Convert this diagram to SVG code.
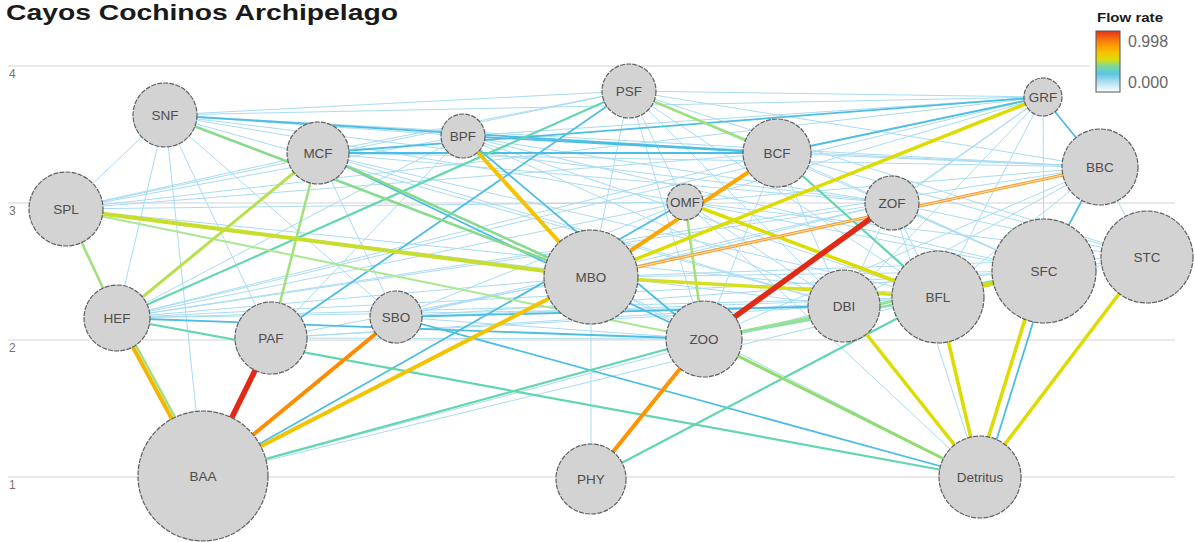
<svg xmlns="http://www.w3.org/2000/svg" width="1195" height="542" viewBox="0 0 1195 542">
<defs>
<linearGradient id="flow" x1="0" y1="0" x2="0" y2="1">
<stop offset="0" stop-color="#e8321a"/>
<stop offset="0.12" stop-color="#f66a10"/>
<stop offset="0.25" stop-color="#ffa000"/>
<stop offset="0.37" stop-color="#f2c600"/>
<stop offset="0.47" stop-color="#dcdc10"/>
<stop offset="0.58" stop-color="#78d8a0"/>
<stop offset="0.70" stop-color="#5cc6e4"/>
<stop offset="0.85" stop-color="#b6e0f2"/>
<stop offset="1" stop-color="#ffffff"/>
</linearGradient>
<style>
.grid{stroke:#e2e2e2;stroke-width:1.5}
.ax{font-family:"Liberation Sans",Arial,sans-serif;font-size:12px;fill:#7d7063}
.edges line{stroke-linecap:round;fill:none}
.lb{stroke:#a9dcf2;stroke-width:1}
.mb{stroke:#4cbde3;stroke-width:1.8}
.tl{stroke:#62d6ae;stroke-width:2.2}
.lg{stroke:#9fe07a;stroke-width:2.5}
.yg{stroke:#c3e03a;stroke-width:3}
.ye{stroke:#dcdc00;stroke-width:3.5}
.go{stroke:#f4c300;stroke-width:4}
.or{stroke:#ff9400;stroke-width:4}
.rd{stroke:#e12a16;stroke-width:5.5}
.node circle{fill:#d3d3d3;stroke:#606060;stroke-width:1.2;stroke-dasharray:5 1.2}
.node text{font-family:"Liberation Sans",Arial,sans-serif;font-size:13.5px;fill:#4d4d4d;text-anchor:middle;dominant-baseline:central}
</style>
</defs>
<rect width="1195" height="542" fill="#ffffff"/>
<g id="grid">
<line class="grid" x1="8" y1="66" x2="1090" y2="66"/>
<line class="grid" x1="8" y1="203" x2="1175" y2="203"/>
<line class="grid" x1="8" y1="340" x2="1175" y2="340"/>
<line class="grid" x1="8" y1="477" x2="1175" y2="477"/>
<text class="ax" x="9" y="78">4</text>
<text class="ax" x="9" y="215">3</text>
<text class="ax" x="9" y="352">2</text>
<text class="ax" x="9" y="489">1</text>
</g>
<text x="6" y="20" font-family="Liberation Sans,Arial,sans-serif" font-size="22" font-weight="bold" fill="#1a1a1a" textLength="392" lengthAdjust="spacingAndGlyphs">Cayos Cochinos Archipelago</text>
<g id="legend">
<text x="1097" y="22" font-family="Liberation Sans,Arial,sans-serif" font-size="13" font-weight="bold" fill="#1a1a1a" textLength="66" lengthAdjust="spacingAndGlyphs">Flow rate</text>
<rect x="1096" y="31" width="24" height="61" fill="url(#flow)" stroke="#555" stroke-width="1"/>
<text x="1128" y="47" font-family="Liberation Sans,Arial,sans-serif" font-size="16" fill="#666">0.998</text>
<text x="1128" y="88" font-family="Liberation Sans,Arial,sans-serif" font-size="16" fill="#666">0.000</text>
</g>
<g id="connectors" class="edges">
<line class="lb" x1="165" y1="115" x2="629" y2="91"/>
<line class="lb" x1="165" y1="115" x2="1043" y2="97"/>
<line class="lb" x1="165" y1="115" x2="1100" y2="167"/>
<line class="lb" x1="165" y1="115" x2="463" y2="136"/>
<line class="lb" x1="165" y1="115" x2="892" y2="203"/>
<line class="lb" x1="165" y1="115" x2="66" y2="209"/>
<line class="lb" x1="165" y1="115" x2="117" y2="318"/>
<line class="lb" x1="165" y1="115" x2="203" y2="476"/>
<line class="lb" x1="165" y1="115" x2="271" y2="338"/>
<line class="lb" x1="165" y1="115" x2="396" y2="317"/>
<line class="lb" x1="165" y1="115" x2="844" y2="306"/>
<line class="lb" x1="165" y1="115" x2="685" y2="202"/>
<line class="lb" x1="318" y1="153" x2="629" y2="91"/>
<line class="lb" x1="318" y1="153" x2="1100" y2="167"/>
<line class="lb" x1="318" y1="153" x2="892" y2="203"/>
<line class="lb" x1="318" y1="153" x2="66" y2="209"/>
<line class="lb" x1="318" y1="153" x2="396" y2="317"/>
<line class="lb" x1="318" y1="153" x2="844" y2="306"/>
<line class="lb" x1="318" y1="153" x2="938" y2="297"/>
<line class="lb" x1="463" y1="136" x2="1043" y2="97"/>
<line class="lb" x1="463" y1="136" x2="1100" y2="167"/>
<line class="lb" x1="463" y1="136" x2="66" y2="209"/>
<line class="lb" x1="463" y1="136" x2="117" y2="318"/>
<line class="lb" x1="463" y1="136" x2="844" y2="306"/>
<line class="lb" x1="463" y1="136" x2="938" y2="297"/>
<line class="lb" x1="463" y1="136" x2="1044" y2="271"/>
<line class="lb" x1="463" y1="136" x2="892" y2="203"/>
<line class="lb" x1="463" y1="136" x2="271" y2="338"/>
<line class="lb" x1="629" y1="91" x2="1043" y2="97"/>
<line class="lb" x1="629" y1="91" x2="1100" y2="167"/>
<line class="lb" x1="629" y1="91" x2="66" y2="209"/>
<line class="lb" x1="629" y1="91" x2="591" y2="277"/>
<line class="lb" x1="629" y1="91" x2="704" y2="339"/>
<line class="lb" x1="629" y1="91" x2="844" y2="306"/>
<line class="lb" x1="629" y1="91" x2="938" y2="297"/>
<line class="lb" x1="629" y1="91" x2="1044" y2="271"/>
<line class="lb" x1="629" y1="91" x2="685" y2="202"/>
<line class="lb" x1="629" y1="91" x2="1147" y2="257"/>
<line class="lb" x1="1043" y1="97" x2="892" y2="203"/>
<line class="lb" x1="1043" y1="97" x2="844" y2="306"/>
<line class="lb" x1="1043" y1="97" x2="938" y2="297"/>
<line class="lb" x1="1043" y1="97" x2="1044" y2="271"/>
<line class="lb" x1="1043" y1="97" x2="704" y2="339"/>
<line class="lb" x1="1043" y1="97" x2="685" y2="202"/>
<line class="lb" x1="1043" y1="97" x2="117" y2="318"/>
<line class="lb" x1="1043" y1="97" x2="66" y2="209"/>
<line class="lb" x1="1100" y1="167" x2="777" y2="153"/>
<line class="lb" x1="1100" y1="167" x2="685" y2="202"/>
<line class="lb" x1="1100" y1="167" x2="704" y2="339"/>
<line class="lb" x1="1100" y1="167" x2="844" y2="306"/>
<line class="lb" x1="1100" y1="167" x2="938" y2="297"/>
<line class="lb" x1="1100" y1="167" x2="1147" y2="257"/>
<line class="lb" x1="1100" y1="167" x2="117" y2="318"/>
<line class="lb" x1="1100" y1="167" x2="396" y2="317"/>
<line class="lb" x1="777" y1="153" x2="66" y2="209"/>
<line class="lb" x1="777" y1="153" x2="117" y2="318"/>
<line class="lb" x1="777" y1="153" x2="704" y2="339"/>
<line class="lb" x1="777" y1="153" x2="844" y2="306"/>
<line class="lb" x1="777" y1="153" x2="1044" y2="271"/>
<line class="lb" x1="777" y1="153" x2="1147" y2="257"/>
<line class="lb" x1="892" y1="203" x2="591" y2="277"/>
<line class="lb" x1="892" y1="203" x2="938" y2="297"/>
<line class="lb" x1="892" y1="203" x2="1044" y2="271"/>
<line class="lb" x1="892" y1="203" x2="1147" y2="257"/>
<line class="lb" x1="892" y1="203" x2="844" y2="306"/>
<line class="lb" x1="892" y1="203" x2="117" y2="318"/>
<line class="lb" x1="892" y1="203" x2="396" y2="317"/>
<line class="lb" x1="685" y1="202" x2="117" y2="318"/>
<line class="lb" x1="685" y1="202" x2="396" y2="317"/>
<line class="lb" x1="685" y1="202" x2="844" y2="306"/>
<line class="lb" x1="685" y1="202" x2="1044" y2="271"/>
<line class="lb" x1="685" y1="202" x2="1147" y2="257"/>
<line class="lb" x1="685" y1="202" x2="66" y2="209"/>
<line class="lb" x1="591" y1="277" x2="1147" y2="257"/>
<line class="lb" x1="591" y1="277" x2="1044" y2="271"/>
<line class="lb" x1="591" y1="277" x2="704" y2="339"/>
<line class="lb" x1="591" y1="277" x2="117" y2="318"/>
<line class="lb" x1="591" y1="277" x2="271" y2="338"/>
<line class="lb" x1="591" y1="277" x2="591" y2="479"/>
<line class="lb" x1="704" y1="339" x2="1147" y2="257"/>
<line class="lb" x1="704" y1="339" x2="396" y2="317"/>
<line class="lb" x1="704" y1="339" x2="271" y2="338"/>
<line class="lb" x1="591" y1="277" x2="980" y2="477"/>
<line class="lb" x1="685" y1="202" x2="980" y2="477"/>
<line class="lb" x1="892" y1="203" x2="980" y2="477"/>
<line class="lb" x1="396" y1="317" x2="1044" y2="271"/>
<line class="lb" x1="396" y1="317" x2="938" y2="297"/>
<line class="lb" x1="117" y1="318" x2="1044" y2="271"/>
<line class="lb" x1="117" y1="318" x2="938" y2="297"/>
<line class="lb" x1="117" y1="318" x2="844" y2="306"/>
<line class="lb" x1="271" y1="338" x2="844" y2="306"/>
<line class="lb" x1="271" y1="338" x2="938" y2="297"/>
<line class="lb" x1="203" y1="476" x2="844" y2="306"/>
<line class="lb" x1="203" y1="476" x2="938" y2="297"/>
<line class="lb" x1="1147" y1="257" x2="1044" y2="271"/>
<line class="lb" x1="66" y1="209" x2="844" y2="306"/>
<line class="lb" x1="66" y1="209" x2="938" y2="297"/>
<line class="mb" x1="318" y1="153" x2="777" y2="153"/>
<line class="mb" x1="165" y1="115" x2="777" y2="153"/>
<line class="mb" x1="463" y1="136" x2="777" y2="153"/>
<line class="mb" x1="1043" y1="97" x2="777" y2="153"/>
<line class="mb" x1="318" y1="153" x2="1043" y2="97"/>
<line class="mb" x1="117" y1="318" x2="704" y2="339"/>
<line class="mb" x1="396" y1="317" x2="980" y2="477"/>
<line class="mb" x1="463" y1="136" x2="704" y2="339"/>
<line class="mb" x1="271" y1="338" x2="629" y2="91"/>
<line class="mb" x1="203" y1="476" x2="685" y2="202"/>
<line class="mb" x1="1043" y1="97" x2="1100" y2="167"/>
<line class="mb" x1="1100" y1="167" x2="1044" y2="271"/>
<line class="mb" x1="1049" y1="271" x2="985" y2="477"/>
<line class="mb" x1="396" y1="317" x2="844" y2="306"/>
<line class="mb" x1="318" y1="153" x2="704" y2="339"/>
<line class="tl" x1="117" y1="318" x2="629" y2="91"/>
<line class="tl" x1="117" y1="318" x2="980" y2="477"/>
<line class="tl" x1="203" y1="476" x2="704" y2="339"/>
<line class="tl" x1="591" y1="479" x2="938" y2="297"/>
<line class="tl" x1="777" y1="153" x2="938" y2="297"/>
<line class="lg" x1="66" y1="209" x2="117" y2="318"/>
<line class="lg" x1="271" y1="338" x2="318" y2="153"/>
<line class="lg" x1="685" y1="202" x2="704" y2="339"/>
<line class="lg" x1="629" y1="91" x2="777" y2="153"/>
<line class="lg" x1="704" y1="339" x2="980" y2="477" style="stroke:#90dd6e;stroke-width:3"/>
<line class="lg" x1="704" y1="339" x2="1044" y2="271" style="stroke:#98e290;stroke-width:3"/>
<line class="lg" x1="704" y1="339" x2="938" y2="297" style="stroke:#8fe0a8"/>
<line class="lg" x1="66" y1="209" x2="704" y2="339" style="stroke:#a8e890;stroke-width:2"/>
<line class="lg" x1="121" y1="318" x2="207" y2="476"/>
<line class="lg" x1="165" y1="115" x2="591" y2="277" style="stroke:#86da8c"/>
<line class="lg" x1="318" y1="153" x2="591" y2="277" style="stroke:#86da8c"/>
<line class="yg" x1="117" y1="318" x2="318" y2="153" style="stroke:#b8e04c"/>
<line class="yg" x1="66" y1="209" x2="591" y2="277" style="stroke:#c8de2c;stroke-width:4"/>
<line class="ye" x1="591" y1="277" x2="1043" y2="97"/>
<line class="ye" x1="685" y1="202" x2="938" y2="297"/>
<line class="ye" x1="591" y1="277" x2="938" y2="297" style="stroke:#d4e020"/>
<line class="ye" x1="844" y1="306" x2="980" y2="477"/>
<line class="ye" x1="938" y1="297" x2="980" y2="477"/>
<line class="ye" x1="1040" y1="271" x2="976" y2="477"/>
<line class="ye" x1="1147" y1="257" x2="980" y2="477"/>
<line class="ye" x1="938" y1="297" x2="1044" y2="271"/>
<line class="go" x1="463" y1="136" x2="591" y2="277"/>
<line class="go" x1="591" y1="277" x2="203" y2="476"/>
<line class="go" x1="117" y1="318" x2="203" y2="476" style="stroke:#f5b400"/>
<line class="or" x1="396" y1="317" x2="203" y2="476" style="stroke:#ff8c00"/>
<line class="or" x1="704" y1="339" x2="591" y2="479"/>
<line class="or" x1="591" y1="277" x2="777" y2="153" style="stroke:#ffa500"/>
<line x1="591" y1="277" x2="1100" y2="167" style="stroke:#f7a030;stroke-width:3.2"/>
<line x1="591" y1="277" x2="1100" y2="167" style="stroke:#fde0b0;stroke-width:1"/>
<line class="rd" x1="271" y1="338" x2="203" y2="476"/>
<line class="rd" x1="892" y1="203" x2="704" y2="339"/>
</g>
<g id="node-SNF" class="node"><circle cx="165" cy="115" r="32"/><text x="165" y="115">SNF</text></g>
<g id="node-MCF" class="node"><circle cx="318" cy="153" r="31"/><text x="318" y="153">MCF</text></g>
<g id="node-BPF" class="node"><circle cx="463" cy="136" r="22"/><text x="463" y="136">BPF</text></g>
<g id="node-PSF" class="node"><circle cx="629" cy="91" r="27"/><text x="629" y="91">PSF</text></g>
<g id="node-BCF" class="node"><circle cx="777" cy="153" r="34"/><text x="777" y="153">BCF</text></g>
<g id="node-OMF" class="node"><circle cx="685" cy="202" r="18"/><text x="685" y="202">OMF</text></g>
<g id="node-GRF" class="node"><circle cx="1043" cy="97" r="19"/><text x="1043" y="97">GRF</text></g>
<g id="node-BBC" class="node"><circle cx="1100" cy="167" r="38"/><text x="1100" y="167">BBC</text></g>
<g id="node-ZOF" class="node"><circle cx="892" cy="203" r="27"/><text x="892" y="203">ZOF</text></g>
<g id="node-SPL" class="node"><circle cx="66" cy="209" r="37"/><text x="66" y="209">SPL</text></g>
<g id="node-STC" class="node"><circle cx="1147" cy="257" r="46"/><text x="1147" y="257">STC</text></g>
<g id="node-SFC" class="node"><circle cx="1044" cy="271" r="52"/><text x="1044" y="271">SFC</text></g>
<g id="node-BFL" class="node"><circle cx="938" cy="297" r="46"/><text x="938" y="297">BFL</text></g>
<g id="node-DBI" class="node"><circle cx="844" cy="306" r="36"/><text x="844" y="306">DBI</text></g>
<g id="node-HEF" class="node"><circle cx="117" cy="318" r="33"/><text x="117" y="318">HEF</text></g>
<g id="node-PAF" class="node"><circle cx="271" cy="338" r="36"/><text x="271" y="338">PAF</text></g>
<g id="node-SBO" class="node"><circle cx="396" cy="317" r="26"/><text x="396" y="317">SBO</text></g>
<g id="node-MBO" class="node"><circle cx="591" cy="277" r="47"/><text x="591" y="277">MBO</text></g>
<g id="node-ZOO" class="node"><circle cx="704" cy="339" r="38"/><text x="704" y="339">ZOO</text></g>
<g id="node-BAA" class="node"><circle cx="203" cy="476" r="65"/><text x="203" y="476">BAA</text></g>
<g id="node-PHY" class="node"><circle cx="591" cy="479" r="35"/><text x="591" y="479">PHY</text></g>
<g id="node-Detritus" class="node"><circle cx="980" cy="477" r="41"/><text x="980" y="477">Detritus</text></g>
</svg>
